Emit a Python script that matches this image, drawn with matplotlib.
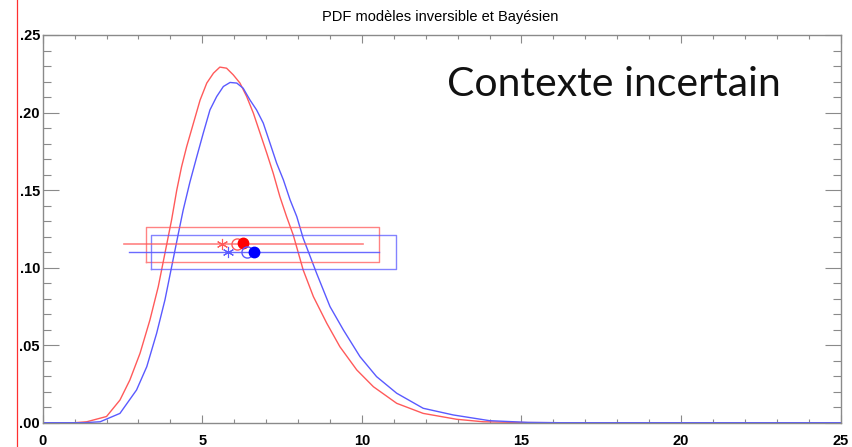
import matplotlib
matplotlib.use("Agg")
import matplotlib.pyplot as plt
from matplotlib.lines import Line2D
from matplotlib.ticker import MultipleLocator, FixedLocator, FixedFormatter

# ---- data ----
red_x = [0, 1.0, 1.38, 2.0, 2.42, 2.73, 3.05, 3.36, 3.62, 3.83, 4.04, 4.20, 4.35, 4.51, 4.72,
         4.93, 5.14, 5.35, 5.55, 5.76, 5.97, 6.18, 6.39, 6.6, 6.81, 7.02, 7.22, 7.43, 7.64,
         7.85, 8.16, 8.48, 8.9, 9.31, 9.84, 10.36, 11.09, 11.92, 12.97, 13.8, 15.0, 16.0, 25.0]
red_y = [0, 0, 0.0006, 0.004, 0.0146, 0.0275, 0.0448, 0.0663, 0.0877, 0.1093, 0.131, 0.150,
         0.165, 0.178, 0.193, 0.208, 0.219, 0.2254, 0.2293, 0.2286, 0.2243, 0.219, 0.2103,
         0.1996, 0.1867, 0.1738, 0.161, 0.1458, 0.1329, 0.121, 0.0985, 0.0813, 0.0641, 0.049,
         0.034, 0.0232, 0.0125, 0.006, 0.0022, 0.0006, 0.0001, 0, 0]

blue_x = [0, 1.3, 1.8, 2.42, 2.94, 3.26, 3.57, 3.83, 4.04, 4.25, 4.4, 4.61, 4.82, 5.03, 5.24,
          5.45, 5.66, 5.87, 6.08, 6.28, 6.49, 6.70, 6.91, 7.12, 7.33, 7.54, 7.75, 7.96, 8.16,
          8.58, 9.0, 9.42, 9.94, 10.46, 11.09, 11.92, 12.86, 14.0, 15.2, 16.2, 25.0]
blue_y = [0, 0, 0.0006, 0.006, 0.0211, 0.0361, 0.0577, 0.0792, 0.1006, 0.122, 0.137, 0.155,
          0.171, 0.1867, 0.2017, 0.2103, 0.2168, 0.2194, 0.219, 0.2157, 0.2082, 0.2017, 0.1932,
          0.1803, 0.1673, 0.1566, 0.1437, 0.1329, 0.119, 0.0964, 0.0749, 0.0598, 0.0426,
          0.0297, 0.019, 0.0093, 0.005, 0.0013, 0.0002, 0, 0]

# summary boxes (x0, x1, y0, y1) and lines (x0, x1, y)
red_box = [3.23, 10.53, 0.1035, 0.1263]
blue_box = [3.39, 11.07, 0.0992, 0.1211]
red_hline = [2.55, 10.03, 0.1151]
blue_hline = [2.70, 10.54, 0.1103]
# markers: asterisk, open circle, filled circle
red_marks_x = [5.63, 6.08, 6.28]
red_marks_y = [0.1153, 0.1153, 0.1157]
blue_marks_x = [5.82, 6.39, 6.62]
blue_marks_y = [0.1100, 0.1103, 0.1103]

x_ticks = [0, 5, 10, 15, 20, 25]
x_labels = ["0", "5", "10", "15", "20", "25"]
y_ticks = [0.00, 0.05, 0.10, 0.15, 0.20, 0.25]
y_labels = [".00", ".05", ".10", ".15", ".20", ".25"]

title = "PDF modèles inversible et Bayésien"
annotation = "Contexte incertain"

RED = "#ff5a5a"
BLUE = "#5a5aff"

fig = plt.figure(figsize=(8.52, 4.47), dpi=100)
ax = fig.add_axes([42.7 / 852, 1 - 422.7 / 447, 798 / 852, 387.7 / 447])

ax.plot(red_x, red_y, color=RED, lw=1.0)
ax.plot(blue_x, blue_y, color=BLUE, lw=1.0)

for box, col in ((red_box, RED), (blue_box, BLUE)):
    x0, x1, y0, y1 = box
    ax.plot([x0, x1, x1, x0, x0], [y0, y0, y1, y1, y0], color=col, lw=1.0, alpha=0.75)
ax.plot(red_hline[:2], [red_hline[2]] * 2, color=RED, lw=1.2, alpha=0.75)
ax.plot(blue_hline[:2], [blue_hline[2]] * 2, color=BLUE, lw=1.0, alpha=0.9)

ast = (6, 2, 0)
ax.plot(red_marks_x[0], red_marks_y[0], marker=ast, ms=8, color=RED, mew=0.8, ls="none")
ax.plot(red_marks_x[1], red_marks_y[1], marker="o", ms=8, mfc="none", mec=RED, mew=1.0, ls="none")
ax.plot(red_marks_x[2], red_marks_y[2], marker="o", ms=7.5, color="#ff0000", ls="none")
ax.plot(blue_marks_x[0], blue_marks_y[0], marker=ast, ms=8, color=BLUE, mew=0.8, ls="none")
ax.plot(blue_marks_x[1], blue_marks_y[1], marker="o", ms=8, mfc="none", mec=BLUE, mew=1.0, ls="none")
ax.plot(blue_marks_x[2], blue_marks_y[2], marker="o", ms=7.5, color="#0000ff", ls="none")

ax.set_xlim(0, 25)
ax.set_ylim(0, 0.25)

ax.xaxis.set_major_locator(FixedLocator(x_ticks))
ax.xaxis.set_major_formatter(FixedFormatter(x_labels))
ax.xaxis.set_minor_locator(MultipleLocator(1))
ax.yaxis.set_major_locator(FixedLocator(y_ticks))
ax.yaxis.set_major_formatter(FixedFormatter(y_labels))
ax.yaxis.set_minor_locator(MultipleLocator(0.01))

gray = "#8a8a8a"
for s in ax.spines.values():
    s.set_color(gray)
    s.set_linewidth(1.0)
ax.tick_params(axis="both", which="both", direction="in", color=gray,
               top=True, right=True, width=0.8)
ax.tick_params(axis="x", which="major", length=6, labelsize=10.5, pad=8)
ax.tick_params(axis="x", which="minor", length=3)
ax.tick_params(axis="y", which="major", length=11.5, labelsize=10.5, pad=2)
ax.tick_params(axis="y", which="minor", length=6)
for lab in ax.get_xticklabels() + ax.get_yticklabels():
    lab.set_fontweight("bold")
    lab.set_fontfamily("Liberation Sans")

fig.text(440 / 852, 1 - 17 / 447, title, ha="center", va="center",
         fontsize=10.5, family="Liberation Sans")
fig.text(447 / 852, 1 - 84 / 447, annotation, ha="left", va="center",
         fontsize=29.5, family="Lato", color="#111111")

# red vertical line at the left edge of the slide
fig.add_artist(Line2D([16.5 / 852, 16.5 / 852], [0, 1], transform=fig.transFigure,
                      color="#ff3030", lw=0.9))

fig.savefig("out.png", dpi=100)
